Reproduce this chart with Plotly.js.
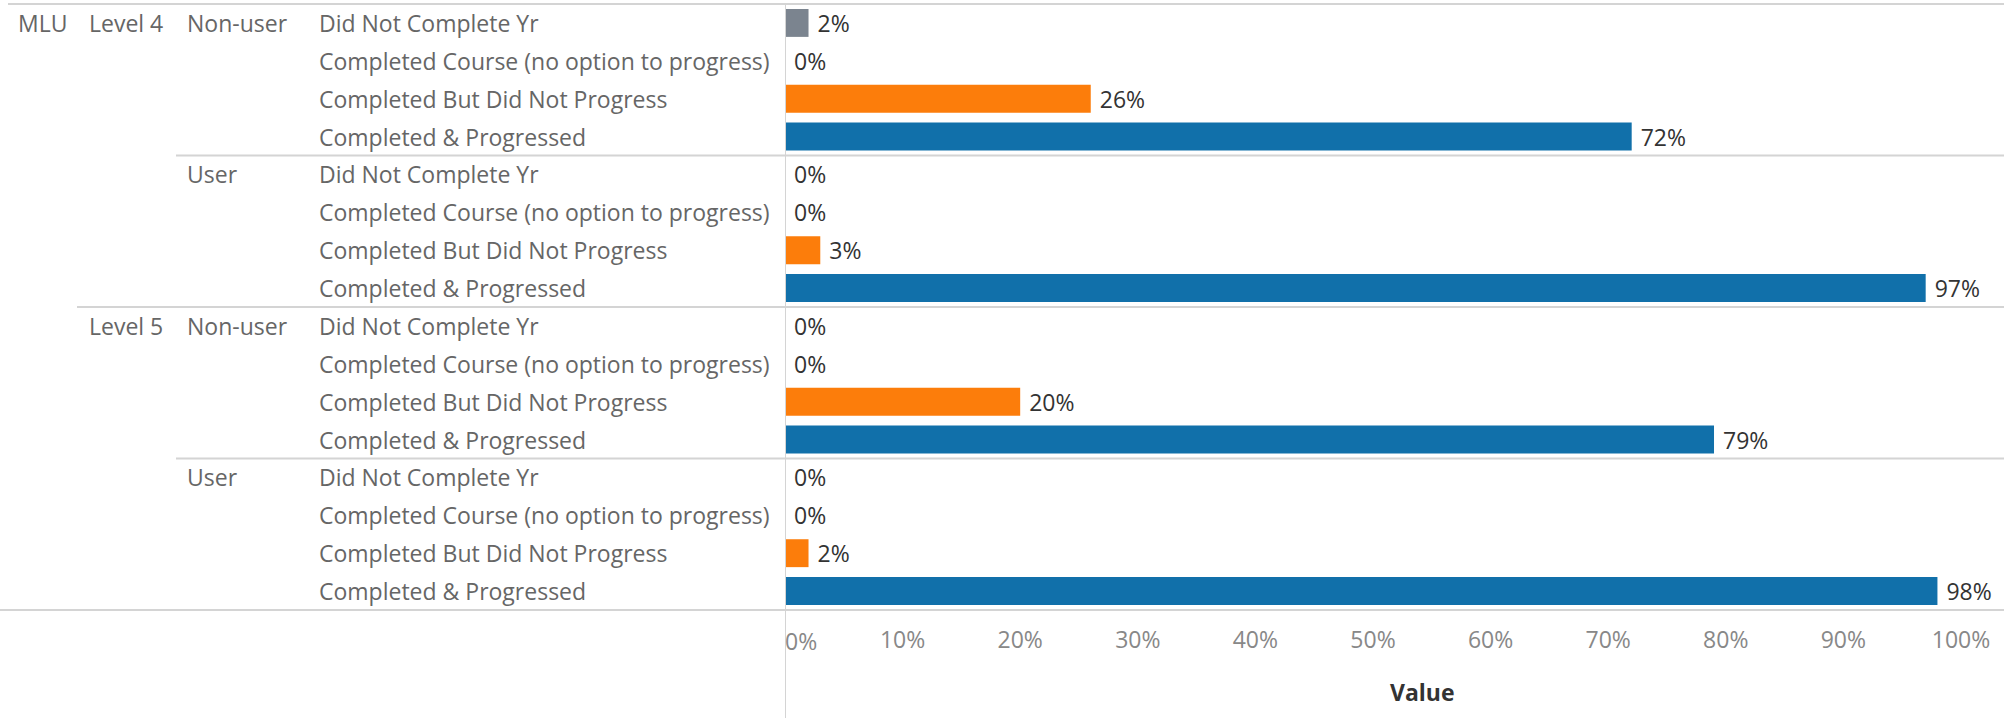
<!DOCTYPE html>
<html>
<head>
<meta charset="utf-8">
<script src="https://cdn.plot.ly/plotly-3.0.1.min.js"></script>
<style>html,body{margin:0;padding:0;background:#fff;}#chart{width:2004px;height:718px;}</style>
</head>
<body>
<div id="chart"></div>
<script>
// ---- data ----
var measureNames = ['MLU'];
var levels = ['Level 4', 'Level 5'];
var userTypes = ['Non-user', 'User'];
var outcomes = ['Did Not Complete Yr', 'Completed Course (no option to progress)', 'Completed But Did Not Progress', 'Completed & Progressed'];
var level4NonUser = [2, 0, 26, 72];
var level4User = [0, 0, 3, 97];
var level5NonUser = [0, 0, 20, 79];
var level5User = [0, 0, 2, 98];
var tickValues = [0, 10, 20, 30, 40, 50, 60, 70, 80, 90, 100];
var tickLabels = ['0%', '10%', '20%', '30%', '40%', '50%', '60%', '70%', '80%', '90%', '100%'];
var axisTitle = 'Value';

// ---- styling ----
var W = 2004, H = 718;
var FONT = 'Open Sans, sans-serif';
var FS = 23;
var outcomeColors = ['#7b848f', '#ffbc79', '#fc7d0b', '#1170aa'];
var px = function (x) { return x / W; };
var py = function (y) { return (H - y) / H; };
var labelFont = {family: FONT, size: FS, color: '#666666'};

var groupValues = [[level4NonUser, level4User], [level5NonUser, level5User]];

var yKeys = [], xVals = [], colors = [], texts = [];
var annotations = [];
var shapes = [];
var rowIndex = 0;
function headerLabel(xPix, key, txt) {
  annotations.push({xref: 'paper', yref: 'y', x: px(xPix), y: key, text: txt, showarrow: false,
    xanchor: 'left', yanchor: 'middle', xshift: -3, font: labelFont});
}
measureNames.forEach(function (m, mi) {
  levels.forEach(function (lv, li) {
    userTypes.forEach(function (u, ui) {
      var vals = groupValues[li][ui];
      outcomes.forEach(function (o, oi) {
        var key = m + ' | ' + lv + ' | ' + u + ' | ' + o;
        yKeys.push(key);
        xVals.push(vals[oi]);
        colors.push(outcomeColors[oi]);
        texts.push('\u00a0' + vals[oi] + '%');
        headerLabel(320, key, o);
        if (oi === 0) {
          headerLabel(188, key, u);
          if (ui === 0) {
            headerLabel(90, key, lv);
            if (li === 0) headerLabel(19, key, m);
          }
          // separator line above this group
          var x0 = rowIndex === 0 ? px(8) : (ui === 0 ? px(77) : px(176));
          shapes.push({type: 'line', xref: 'paper', yref: 'y', x0: x0, x1: 1, y0: rowIndex - 0.5, y1: rowIndex - 0.5,
            line: {color: '#d4d4d4', width: 2}});
        }
        rowIndex++;
      });
    });
  });
});
// bottom separator
shapes.push({type: 'line', xref: 'paper', yref: 'y', x0: 0, x1: 1, y0: rowIndex - 0.5, y1: rowIndex - 0.5,
  line: {color: '#d4d4d4', width: 2}});
// vertical zero line of pane
shapes.push({type: 'line', xref: 'x', yref: 'paper', x0: 0, x1: 0, y0: 0, y1: py(3),
  line: {color: '#d4d4d4', width: 2}});

// first tick label kept inside the pane (left aligned) like the original
var shownTicks = tickLabels.slice();
shownTicks[0] = '';
annotations.push({xref: 'x', yref: 'paper', x: tickValues[0], y: py(641), text: tickLabels[0], showarrow: false,
  xanchor: 'left', yanchor: 'middle', xshift: -2, font: {family: FONT, size: FS, color: '#888888'}});
annotations.push({xref: 'paper', yref: 'paper', x: px(1422), y: py(692), text: '<b>' + axisTitle + '</b>', showarrow: false,
  xanchor: 'center', yanchor: 'middle', font: {family: FONT, size: FS, color: '#333333'}});

var trace = {
  type: 'bar', orientation: 'h',
  x: xVals, y: yKeys,
  marker: {color: colors, line: {width: 0}},
  text: texts, textposition: 'outside', cliponaxis: false, constraintext: 'none',
  textfont: {family: FONT, size: FS, color: '#333333'},
  hoverinfo: 'none'
};

var layout = {
  width: W, height: H,
  margin: {l: 0, r: 0, t: 0, b: 0, pad: 0},
  paper_bgcolor: '#ffffff', plot_bgcolor: '#ffffff',
  showlegend: false,
  bargap: 0.263,
  font: {family: FONT, size: FS, color: '#666666'},
  uniformtext: {mode: false},
  xaxis: {
    domain: [px(785), 1], range: [0, 103.66],
    tickmode: 'array', tickvals: tickValues, ticktext: shownTicks,
    ticks: '', ticklabelstandoff: 13, showgrid: false, zeroline: false, showline: false,
    tickfont: {family: FONT, size: FS, color: '#888888'},
    automargin: false, fixedrange: true
  },
  yaxis: {
    domain: [py(611), py(3)],
    type: 'category', categoryorder: 'array', categoryarray: yKeys,
    autorange: 'reversed',
    showticklabels: false, ticks: '', showgrid: false, zeroline: false, showline: false,
    automargin: false, fixedrange: true
  },
  shapes: shapes,
  annotations: annotations
};

Plotly.newPlot('chart', [trace], layout, {staticPlot: true, displayModeBar: false});
</script>
</body>
</html>
